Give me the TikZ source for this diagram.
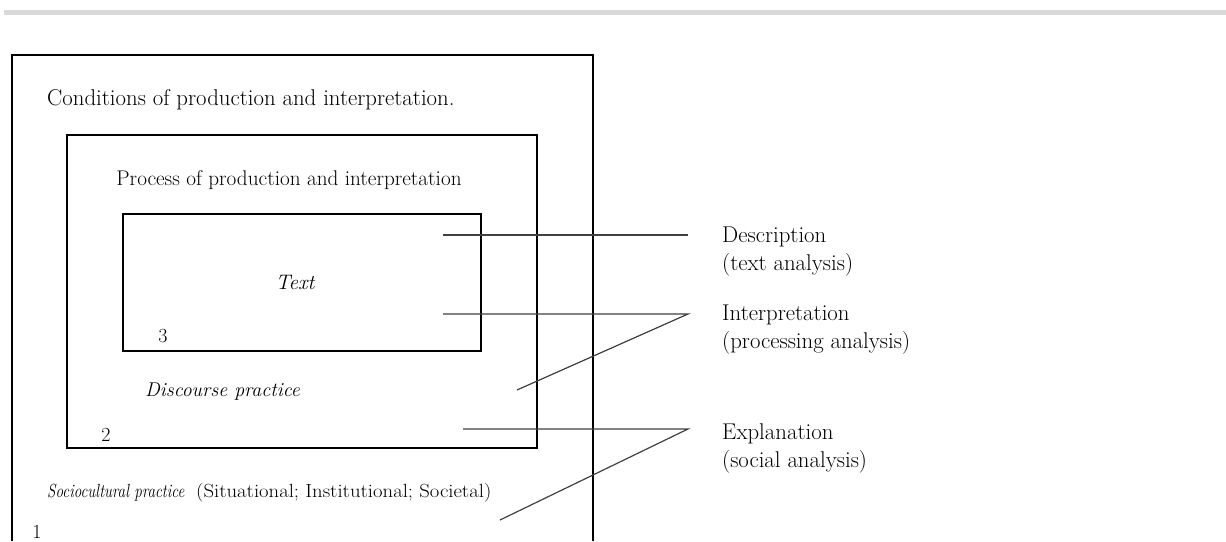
\documentclass[tikz,border=0pt]{standalone}
\usepackage{fontspec}
\usepackage{graphicx}

\begin{document}
\begin{tikzpicture}[x=1pt,y=-1pt,
	every node/.style={font=\fontsize{20}{24}\selectfont, inner sep=0pt},
	lbl/.style={anchor=base west, font=\fontsize{22.8}{27}\selectfont},
	conn/.style={line width=1.2pt, black!75}]
	
	\def\fw{1.3pt}     
	\def\pw{2.2pt}     
	\def\tw{2.6pt}     
	\def\lx{722}       
	
	\useasboundingbox (0,0) rectangle (1226,541);
	\fill[gray!30] (4,10) rectangle (1226,15);
	
	% outer frame, open at the bottom
	\draw[line width=\fw] (12,541) -- (12,55) -- (593,55) -- (593,541);
	\draw[line width=\pw] (67,135) rectangle (537,448);
	\draw[line width=\tw] (123,214) rectangle (481,351);
	
	\node[anchor=west, font=\fontsize{22.8}{27}\selectfont] (cond) at (47,100) {Conditions of production and interpretation.};
	\node[font=\fontsize{21.2}{25}\selectfont] (proc) at (289,180) {Process of production and interpretation};
	\node[font=\fontsize{21}{25}\selectfont] (txt) at (295,282) {\itshape Text};
	\node (n3) at (163,336) {3};
	\node[anchor=west, font=\fontsize{19.9}{24}\selectfont] (disc) at (145,392) {\itshape Discourse practice};
	\node (n2) at (106,435) {2};
	\node[anchor=west, font=\fontsize{19}{22}\selectfont] (socio) at (47,493) {\scalebox{0.8}[1]{\itshape Sociocultural practice}};
	\node[anchor=west, font=\fontsize{19}{22}\selectfont] (sit) at (196,493) {\scalebox{1.09}[1]{(Situational; Institutional; Societal)}};
	\node (n1) at (37,532) {1};
	
	\node[lbl] (desc) at (\lx,242) {Description};
	\node[lbl] (descsub) at (\lx,270) {(text analysis)};
	\node[lbl] (interp) at (\lx,320) {Interpretation};
	\node[lbl] (interpsub) at (\lx,348) {(processing analysis)};
	\node[lbl] (expl) at (\lx,439) {Explanation};
	\node[lbl] (explsub) at (\lx,467) {(social analysis)};
	
	\coordinate (dA) at (443,235);
	\coordinate (jd) at (688,235);
	\coordinate (iA) at (443,314);
	\coordinate (ji) at (688,314);
	\coordinate (iB) at (517,390);
	\coordinate (eA) at (463,429);
	\coordinate (je) at (688,429);
	\coordinate (eB) at (500,520);
	
	\draw[conn] (dA) -- (jd);
	\draw[conn] (iA) -- (ji) -- (iB);
	\draw[conn] (eA) -- (je) -- (eB);
\end{tikzpicture}
\end{document}
